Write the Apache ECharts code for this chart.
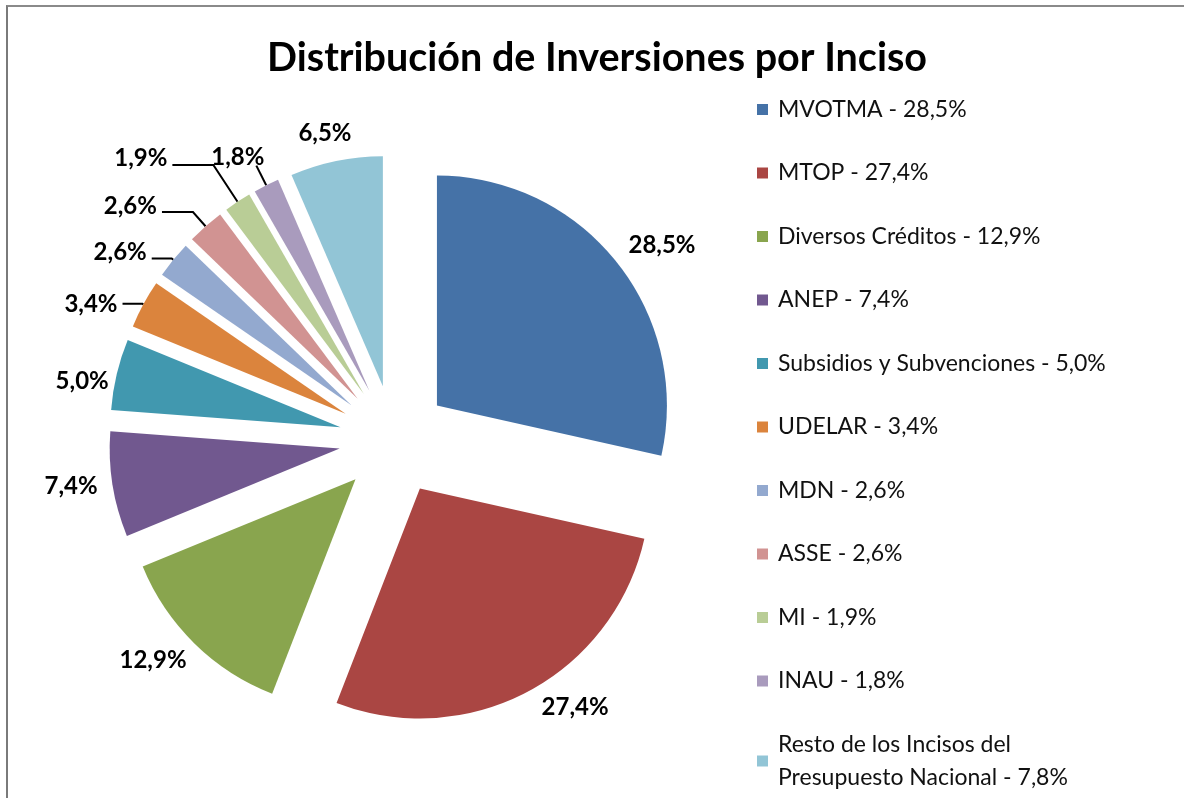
<!DOCTYPE html>
<html>
<head>
<meta charset="utf-8">
<script src="https://cdn.jsdelivr.net/npm/echarts@6/dist/echarts.min.js"></script>
<style>
  html, body { margin: 0; padding: 0; background: #fff; }
  #chart { position: absolute; left: 0; top: 0; width: 1184px; height: 798px; }
  #frame { position: absolute; left: 6px; top: 5px; width: 1200px; height: 820px;
           border-left: 2px solid #7a7a7a; border-top: 2px solid #8a8a8a; pointer-events: none; }
</style>
</head>
<body>
<div id="chart"></div>
<div id="frame"></div>
<script>
// ---- data ----
const categories = ['MVOTMA', 'MTOP', 'Diversos Créditos', 'ANEP', 'Subsidios y Subvenciones',
  'UDELAR', 'MDN', 'ASSE', 'MI', 'INAU', 'Resto de los Incisos del Presupuesto Nacional'];
const values = [28.5, 27.4, 12.9, 7.4, 5.0, 3.4, 2.6, 2.6, 1.9, 1.8, 6.5];
const legendPct = ['28,5%', '27,4%', '12,9%', '7,4%', '5,0%', '3,4%', '2,6%', '2,6%', '1,9%', '1,8%', '7,8%'];
const legendNames = ['MVOTMA', 'MTOP', 'Diversos Créditos', 'ANEP', 'Subsidios y Subvenciones',
  'UDELAR', 'MDN', 'ASSE', 'MI', 'INAU', 'Resto de los Incisos del\nPresupuesto Nacional'];
const colors = ['#4572A7', '#AA4643', '#89A54E', '#71588F', '#4198AF', '#DB843D',
  '#93A9CF', '#D19392', '#B9CD96', '#A99BBD', '#92C5D6'];

// ---- label styling (leader lines / placement tweaks) ----
// shift: spacer height (px) placed below (>0 lifts text) or above (<0 lowers text)
const labelStyle = [
  { show: false, len: 27, len2: 0, dist: -9, shift: 0 },
  { show: false, len: 18, len2: 0, dist: 5, shift: 0 },
  { show: false, len: 24, len2: 0, dist: -9, shift: 0 },
  { show: false, len: 10, len2: 0, dist: 5, shift: 0 },
  { show: false, len: 3, len2: 0, dist: 5, shift: -16 },
  { show: true, len: 1, len2: 20, dist: 5, shift: 0 },
  { show: true, len: 2, len2: 20, dist: 5, shift: 12 },
  { show: true, len: 19, len2: 31, dist: 5, shift: 12 },
  { show: true, len: 44, len2: 41, dist: 5, shift: 14 },
  { show: true, len: 22, len2: 0, dist: -8, shift: 16 },
  { show: false, len: 28, len2: 0, dist: -21, shift: 0 }
];

const fmt = v => v.toFixed(1).replace('.', ',') + '%';

const richStyles = {
  v: { fontFamily: 'Lato', fontWeight: 'bold', fontSize: 24, lineHeight: 28, color: '#000' }
};
labelStyle.forEach((s, i) => {
  if (s.shift) richStyles['s' + i] = { height: Math.abs(s.shift), lineHeight: Math.abs(s.shift), fontSize: 1 };
});

const seriesData = categories.map((name, i) => ({
  name: name,
  value: values[i],
  selected: true,
  itemStyle: { color: colors[i] },
  label: { distanceToLabelLine: labelStyle[i].dist },
  labelLine: { show: labelStyle[i].show, length: labelStyle[i].len, length2: labelStyle[i].len2 }
}));

const chart = echarts.init(document.getElementById('chart'), null, { renderer: 'canvas' });
chart.setOption({
  animation: false,
  backgroundColor: '#ffffff',
  title: {
    text: 'Distribución de Inversiones por Inciso',
    left: 592,
    textAlign: 'center',
    top: 33,
    textStyle: { fontFamily: 'Lato', fontWeight: 'bold', fontSize: 39.5, color: '#000' }
  },
  legend: {
    orient: 'vertical',
    left: 757,
    top: 93,
    height: 760,
    padding: 0,
    itemGap: 30.5,
    itemWidth: 11,
    itemHeight: 11,
    icon: 'rect',
    selectedMode: false,
    data: categories,
    formatter: function (name) {
      const i = categories.indexOf(name);
      return legendNames[i] + ' - ' + legendPct[i];
    },
    textStyle: { fontFamily: 'Lato', fontSize: 23, color: '#111', lineHeight: 33, padding: [0, 0, 0, 5] }
  },
  series: [{
    type: 'pie',
    center: [394, 440],
    radius: 230,
    startAngle: 90,
    clockwise: true,
    selectedMode: 'multiple',
    selectedOffset: 55,
    avoidLabelOverlap: false,
    emphasis: { disabled: true },
    select: { itemStyle: { borderWidth: 0 } },
    itemStyle: { borderWidth: 0 },
    label: {
      show: true,
      position: 'outside',
      formatter: function (p) {
        const i = p.dataIndex;
        const t = '{v|' + fmt(values[i]) + '}';
        const s = labelStyle[i].shift;
        if (s > 0) return t + '\n{s' + i + '| }';
        if (s < 0) return '{s' + i + '| }\n' + t;
        return t;
      },
      rich: richStyles,
      fontFamily: 'Lato',
      fontWeight: 'bold',
      fontSize: 24,
      color: '#000'
    },
    labelLine: {
      lineStyle: { color: '#000', width: 2 }
    },
    data: seriesData
  }]
});
</script>
</body>
</html>
